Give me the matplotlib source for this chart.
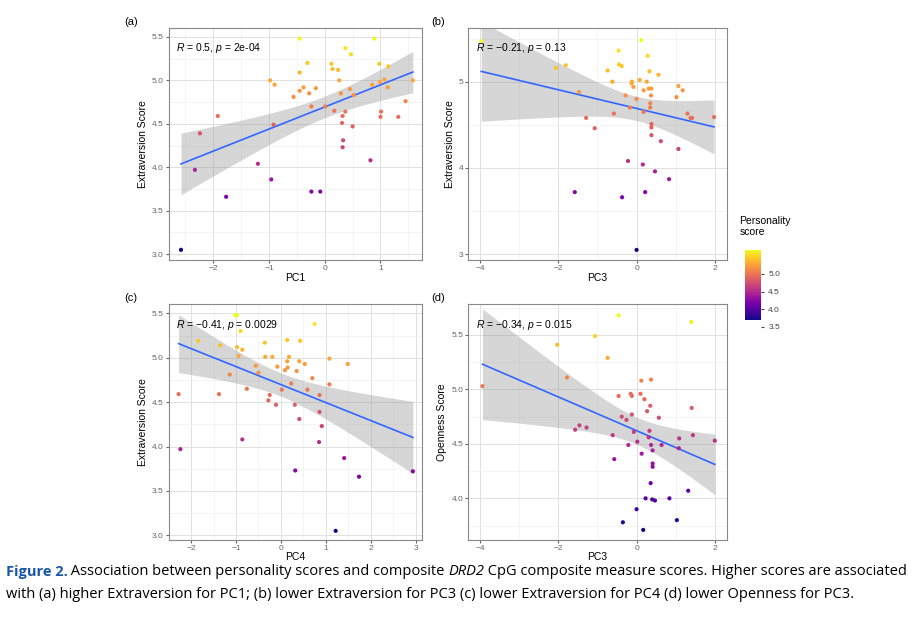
import numpy as np
import matplotlib
matplotlib.use("Agg")
import matplotlib.pyplot as plt
from matplotlib.ticker import MultipleLocator, FormatStrFormatter

plt.rcParams['font.family'] = ['Liberation Sans', 'DejaVu Sans']
plt.rcParams['mathtext.fontset'] = 'custom'
plt.rcParams['mathtext.it'] = 'Liberation Sans:italic'
plt.rcParams['mathtext.rm'] = 'Liberation Sans'

# Panel (a): PC1 vs Extraversion
a_x = [-2.58, -2.33, -2.24, -1.92, -1.77, -1.2, -0.98, -0.96, -0.92, -0.9, -0.56, -0.45, -0.45, -0.45,
       -0.38, -0.31, -0.28, -0.24, -0.24, -0.16, -0.08, 0.01, 0.12, 0.14, 0.17, 0.24, 0.26, 0.29, 0.31,
       0.32, 0.32, 0.33, 0.37, 0.37, 0.45, 0.47, 0.5, 0.52, 0.82, 0.85, 0.89, 0.98, 0.99, 1.0, 1.01,
       1.07, 1.14, 1.13, 1.32, 1.45, 1.58]
a_y = [3.05, 3.97, 4.39, 4.59, 3.66, 4.04, 5.0, 3.86, 4.49, 4.95, 4.81, 4.88, 5.09, 5.48,
       4.92, 5.2, 4.85, 4.70, 3.72, 4.91, 3.72, 4.70, 5.19, 5.13, 4.65, 5.12, 5.0, 4.85, 4.51,
       4.59, 4.23, 4.31, 5.37, 4.64, 4.90, 5.3, 4.47, 4.83, 4.08, 4.95, 5.48, 5.19, 4.98, 4.58, 4.64,
       5.01, 5.16, 4.92, 4.58, 4.76, 5.0]

# Panel (b): PC3 vs Extraversion
b_x = [-3.97, -2.06, -1.81, -1.47, -1.58, -1.29, -1.07, -0.74, -0.62, -0.58, -0.46, -0.45, -0.38, -0.37,
       -0.28, -0.22, -0.17, -0.13, -0.12, -0.08, 0.0, 0.08, 0.12, 0.16, 0.18, 0.18, 0.22, 0.26, 0.28,
       0.31, 0.33, 0.35, 0.35, 0.37, 0.38, 0.38, 0.38, 0.38, 0.47, 0.56, 0.62, 0.83, 1.02, 1.07, 1.07,
       1.18, 1.3, 1.38, 1.42, 1.98, 0.0]
b_y = [5.47, 5.16, 5.19, 4.88, 3.72, 4.58, 4.46, 5.13, 5.0, 4.63, 5.36, 5.2, 5.18, 3.66,
       4.84, 4.08, 4.70, 4.98, 5.0, 4.94, 4.8, 5.02, 5.48, 4.04, 4.9, 4.65, 3.72, 5.0, 5.3,
       4.92, 5.12, 4.75, 4.70, 4.84, 4.92, 4.51, 4.47, 4.38, 3.96, 5.08, 4.31, 3.87, 4.82, 4.95, 4.22,
       4.9, 4.63, 4.58, 4.58, 4.59, 3.05]

# Panel (c): PC4 vs Extraversion
c_x = [-2.28, -2.24, -1.84, -1.38, -1.35, -1.14, -1.02, -0.98, -0.98, -0.94, -0.9, -0.86, -0.86, -0.76,
       -0.56, -0.5, -0.36, -0.35, -0.28, -0.25, -0.19, -0.11, -0.08, 0.02, 0.09, 0.14, 0.14, 0.15, 0.18,
       0.23, 0.31, 0.32, 0.35, 0.41, 0.41, 0.43, 0.53, 0.59, 0.7, 0.75, 0.85, 0.86, 0.86, 0.91, 1.08,
       1.08, 1.22, 1.41, 1.49, 1.74, 2.94]
c_y = [4.59, 3.97, 5.19, 4.59, 5.14, 4.81, 5.48, 5.48, 5.12, 5.02, 5.30, 5.09, 4.08, 4.65,
       4.91, 4.83, 5.17, 5.01, 4.52, 4.58, 5.01, 4.47, 4.90, 4.64, 4.86, 4.96, 5.2, 4.89, 5.01,
       4.71, 4.47, 3.73, 4.85, 4.31, 4.96, 5.19, 4.93, 4.64, 4.77, 5.38, 4.05, 4.58, 4.39, 4.23, 4.99,
       4.70, 3.05, 3.87, 4.93, 3.66, 3.72]

# Panel (d): PC3 vs Openness
d_x = [-3.94, -2.03, -1.78, -1.57, -1.46, -1.28, -1.06, -0.74, -0.61, -0.57, -0.46, -0.46, -0.38, -0.35,
       -0.26, -0.21, -0.15, -0.12, -0.12, -0.07, 0.0, 0.02, 0.12, 0.1, 0.13, 0.17, 0.2, 0.23, 0.27,
       0.31, 0.33, 0.35, 0.36, 0.37, 0.37, 0.4, 0.41, 0.41, 0.41, 0.47, 0.57, 0.64, 0.84, 1.03, 1.09,
       1.08, 1.32, 1.41, 1.4, 1.44, 2.0]
d_y = [5.03, 5.41, 5.11, 4.63, 4.67, 4.65, 5.49, 5.29, 4.58, 4.36, 5.68, 4.94, 4.75, 3.78,
       4.72, 4.49, 4.96, 4.94, 4.77, 4.61, 3.9, 4.52, 5.08, 4.96, 4.41, 3.71, 4.91, 4.0, 4.80,
       4.56, 4.62, 4.85, 4.14, 5.09, 4.49, 3.99, 4.44, 4.32, 4.29, 3.98, 4.74, 4.49, 4.0, 3.80, 4.55,
       4.46, 4.07, 4.83, 5.62, 4.58, 4.53]

panels = [
    ("(a)", a_x, a_y, "PC1", "Extraversion Score", "$R$ = 0.5, $p$ = 2e-04"),
    ("(b)", b_x, b_y, "PC3", "Extraversion Score", "$R$ = \u22120.21, $p$ = 0.13"),
    ("(c)", c_x, c_y, "PC4", "Extraversion Score", "$R$ = \u22120.41, $p$ = 0.0029"),
    ("(d)", d_x, d_y, "PC3", "Openness Score", "$R$ = \u22120.34, $p$ = 0.015"),
]
rects = [[0.183, 0.594, 0.275, 0.362], [0.508, 0.594, 0.280, 0.362],
         [0.183, 0.158, 0.275, 0.367], [0.508, 0.158, 0.280, 0.367]]
label_x = [0.135, 0.468, 0.135, 0.468]
xlims = [(-2.8, 1.75), (-4.3, 2.3), (-2.5, 3.15), (-4.3, 2.3)]
ylims = [(2.93, 5.6), (2.93, 5.62), (2.95, 5.6), (3.62, 5.78)]
xsteps = [1, 2, 1, 2]
ysteps = [0.5, 1, 0.5, 0.5]

fig = plt.figure(figsize=(9.22, 6.41), dpi=100)
sc = None
for (lab, x, y, xl, yl, ann), r, lx, xlim, ylim, xs, ys in zip(panels, rects, label_x, xlims, ylims, xsteps, ysteps):
    x = np.array(x); y = np.array(y)
    ax = fig.add_axes(r)
    ax.set_xlim(*xlim); ax.set_ylim(*ylim)
    ax.xaxis.set_major_locator(MultipleLocator(xs))
    ax.xaxis.set_minor_locator(MultipleLocator(xs / 2))
    ax.yaxis.set_major_locator(MultipleLocator(ys))
    ax.yaxis.set_minor_locator(MultipleLocator(ys / 2))
    if ys < 1:
        ax.yaxis.set_major_formatter(FormatStrFormatter('%.1f'))
    ax.grid(which='major', color='#e0e0e0', lw=0.7)
    ax.grid(which='minor', color='#f0f0f0', lw=0.5)
    ax.set_axisbelow(True)
    for s in ax.spines.values():
        s.set_color('#888888'); s.set_linewidth(0.8)
    ax.tick_params(which='both', labelsize=6, colors='#666666', length=2, pad=1.5)
    ax.tick_params(which='minor', length=0)
    ax.set_xlabel(xl, fontsize=7.5, labelpad=0.5)
    ax.set_ylabel(yl, fontsize=7.5, labelpad=3)

    # linear fit with 95% confidence band
    n = len(x)
    b1, b0 = np.polyfit(x, y, 1)
    xx = np.linspace(x.min(), x.max(), 100)
    yy = b0 + b1 * xx
    res = y - (b0 + b1 * x)
    s = np.sqrt(np.sum(res ** 2) / (n - 2))
    se = s * np.sqrt(1 / n + (xx - x.mean()) ** 2 / np.sum((x - x.mean()) ** 2))
    ax.fill_between(xx, yy - 2.01 * se, yy + 2.01 * se, color='#999999', alpha=0.4, lw=0)
    ax.plot(xx, yy, color='#3366FF', lw=1.2)
    sc = ax.scatter(x, y, c=y, cmap='plasma', vmin=y.min(), vmax=y.max(), s=9, lw=0, zorder=3)
    ax.text(0.03, 0.9, ann, transform=ax.transAxes, fontsize=7.5)
    fig.text(lx, r[1] + r[3] + 0.005, lab, fontsize=8)

# colourbar
cax = fig.add_axes([0.808, 0.49, 0.017, 0.12])
cb = fig.colorbar(sc, cax=cax)
cb.outline.set_visible(False)
cb.set_ticks([3.5, 4.0, 4.5, 5.0])
cb.ax.tick_params(labelsize=6, colors='#444444', length=2)
fig.text(0.802, 0.63, "Personality\nscore", fontsize=7.5, va='bottom')

# caption with mixed styles
fig.canvas.draw()
rend = fig.canvas.get_renderer()
def chain(parts, y):
    xpos = 0.006
    for txt, kw in parts:
        t = fig.text(xpos, y, txt, fontsize=10.5, va='center', **kw)
        bb = t.get_window_extent(rend)
        xpos = bb.x1 / fig.bbox.width
fam = ['Open Sans', 'DejaVu Sans']
chain([("Figure 2.", dict(color='#1a56a8', weight='bold', family=fam)),
       (" Association between personality scores and composite ", dict(family=fam)),
       ("DRD2", dict(style='italic', family=fam)),
       (" CpG composite measure scores. Higher scores are associated", dict(family=fam))], 0.108)
chain([("with (a) higher Extraversion for PC1; (b) lower Extraversion for PC3 (c) lower Extraversion for PC4 (d) lower Openness for PC3.",
        dict(family=fam))], 0.073)

fig.savefig("out.png", dpi=100)
